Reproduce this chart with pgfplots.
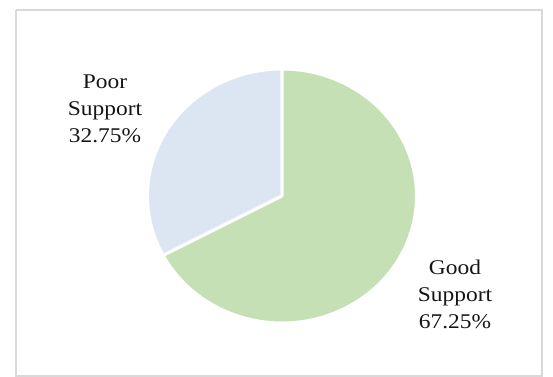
\documentclass[border=0pt]{standalone}
\usepackage{pgfplots}
\pgfplotsset{compat=1.18}
\usepackage{fontspec}
\setmainfont{Liberation Serif}
\definecolor{poorc}{HTML}{DCE6F2}
\definecolor{goodc}{HTML}{C5E0B4}
\definecolor{framec}{HTML}{D9D9D9}
\definecolor{txt}{HTML}{151515}
\def\poor{32.75}
\def\good{67.25}
\begin{document}
\begin{tikzpicture}
\path[use as bounding box] (0,0) rectangle (553bp,377bp);
\begin{axis}[
  at={(0,0)}, anchor=south west,
  scale only axis, width=553bp, height=377bp,
  xmin=0, xmax=553, ymin=0, ymax=377,
  hide axis, clip=false,
]
% chart frame
\addplot[framec, line width=1.5bp, mark=none] coordinates {(16,367) (542,367) (542,1) (16,1) (16,367)};
% Poor support slice
\addplot[fill=poorc, draw=white, line width=3bp, line join=round, mark=none,
  variable=\t, domain={90}:{90+3.6*\poor}, samples=90]
  ({282+134.5*cos(\t)}, {181+127*sin(\t)}) -- (axis cs:282,181) -- cycle;
% Good support slice
\addplot[fill=goodc, draw=white, line width=3bp, line join=round, mark=none,
  variable=\t, domain={90+3.6*\poor}:{450}, samples=180]
  ({282+134.5*cos(\t)}, {181+127*sin(\t)}) -- (axis cs:282,181) -- cycle;
\node[align=center, text=txt, font=\fontsize{21}{27}\selectfont, xscale=1.12]
  at (axis cs:105,268) {Poor\\Support\\32.75\%};
\node[align=center, text=txt, font=\fontsize{21}{27}\selectfont, xscale=1.12]
  at (axis cs:455,83) {Good\\Support\\67.25\%};
\end{axis}
\end{tikzpicture}
\end{document}
